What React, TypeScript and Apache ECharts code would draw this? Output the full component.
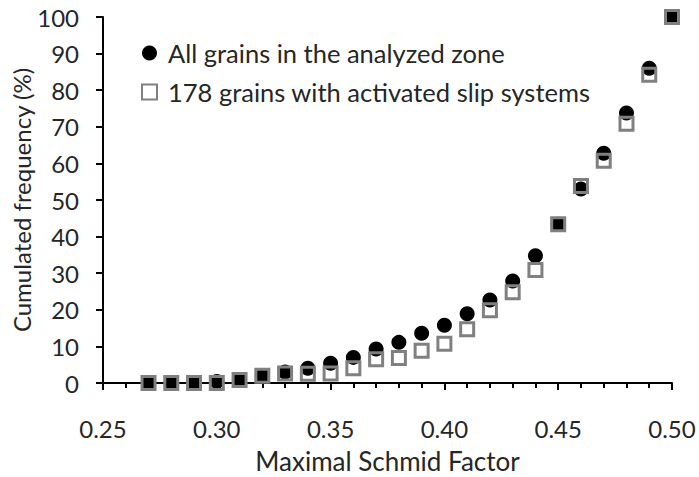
import React, { useEffect, useRef } from "react";
import * as echarts from "echarts";

const schmid = [0.27, 0.28, 0.29, 0.30, 0.31, 0.32, 0.33, 0.34, 0.35, 0.36, 0.37, 0.38, 0.39, 0.40, 0.41, 0.42, 0.43, 0.44, 0.45, 0.46, 0.47, 0.48, 0.49, 0.50];
const allGrains = [0, 0, 0, 0.4, 0.8, 2.0, 3.0, 4.0, 5.4, 7.0, 9.3, 11.1, 13.6, 15.8, 18.9, 22.7, 27.9, 34.8, 43.4, 53.0, 62.8, 73.8, 86.0, 100];
const activated = [0, 0, 0, 0, 0.8, 2.0, 2.6, 2.5, 2.6, 4.0, 6.5, 6.8, 8.8, 10.7, 14.7, 19.9, 24.8, 30.9, 43.4, 53.8, 60.7, 70.8, 84.2, 100];
const seriesNames = ["All grains in the analyzed zone", "178 grains with activated slip systems"];

const FONT = "Lato";
const TEXT = "#262626";

export default function App() {
  const ref = useRef<HTMLDivElement>(null);
  useEffect(() => {
    if (!ref.current) return;
    const chart = echarts.init(ref.current, null, { renderer: "svg" });
    chart.setOption({
      animation: false,
      backgroundColor: "#ffffff",
      textStyle: { fontFamily: FONT },
      grid: { left: 103, top: 17, right: 27, bottom: 94, containLabel: false, outerBoundsMode: "none" },
      legend: {
        orient: "vertical",
        left: 141,
        top: 38,
        padding: 0,
        itemGap: 9,
        itemWidth: 15,
        itemHeight: 15,
        textStyle: { fontFamily: FONT, fontSize: 25.5, color: TEXT, lineHeight: 30, padding: [0, 0, 0, 6] },
        data: [
          { name: seriesNames[0], icon: "circle" },
          { name: seriesNames[1], icon: "rect" },
        ],
      },
      xAxis: {
        type: "value",
        min: 0.25,
        max: 0.5,
        interval: 0.05,
        name: "Maximal Schmid Factor",
        nameLocation: "middle",
        nameGap: 65,
        nameTextStyle: { fontFamily: FONT, fontSize: 26, color: TEXT },
        axisLine: { show: true, onZero: false, lineStyle: { color: "#000", width: 2 } },
        axisTick: { show: true, inside: false, length: 7, lineStyle: { color: "#000", width: 2 } },
        minorTick: { show: true, splitNumber: 5, length: 5, lineStyle: { color: "#000", width: 2 } },
        splitLine: { show: false },
        axisLabel: {
          margin: 33,
          fontFamily: FONT,
          fontSize: 24,
          color: TEXT,
          formatter: (v: number) => v.toFixed(2),
        },
      },
      yAxis: {
        type: "value",
        min: 0,
        max: 100,
        interval: 10,
        name: "Cumulated frequency (%)",
        nameLocation: "middle",
        nameGap: 70,
        nameMoveOverlap: false,
        nameTextStyle: { fontFamily: FONT, fontSize: 24, color: TEXT },
        axisLine: { show: true, lineStyle: { color: "#000", width: 2 } },
        axisTick: { show: true, inside: false, length: 7, lineStyle: { color: "#000", width: 2 } },
        splitLine: { show: false },
        axisLabel: { margin: 24, fontFamily: FONT, fontSize: 24, color: TEXT },
      },
      series: [
        {
          name: seriesNames[0],
          type: "scatter",
          symbol: "circle",
          symbolSize: 15,
          itemStyle: { color: "#000", opacity: 1 },
          data: schmid.map((x, i) => [x, allGrains[i]]),
          z: 2,
        },
        {
          name: seriesNames[1],
          type: "scatter",
          symbol: "rect",
          symbolSize: 13,
          itemStyle: { color: "rgba(255,255,255,0)", borderColor: "#808080", borderWidth: 3, opacity: 1 },
          data: schmid.map((x, i) => [x, activated[i]]),
          z: 3,
        },
      ],
    });
    return () => chart.dispose();
  }, []);
  return <div ref={ref} style={{ width: 699, height: 477, position: "absolute", left: 0, top: 0 }} />;
}
